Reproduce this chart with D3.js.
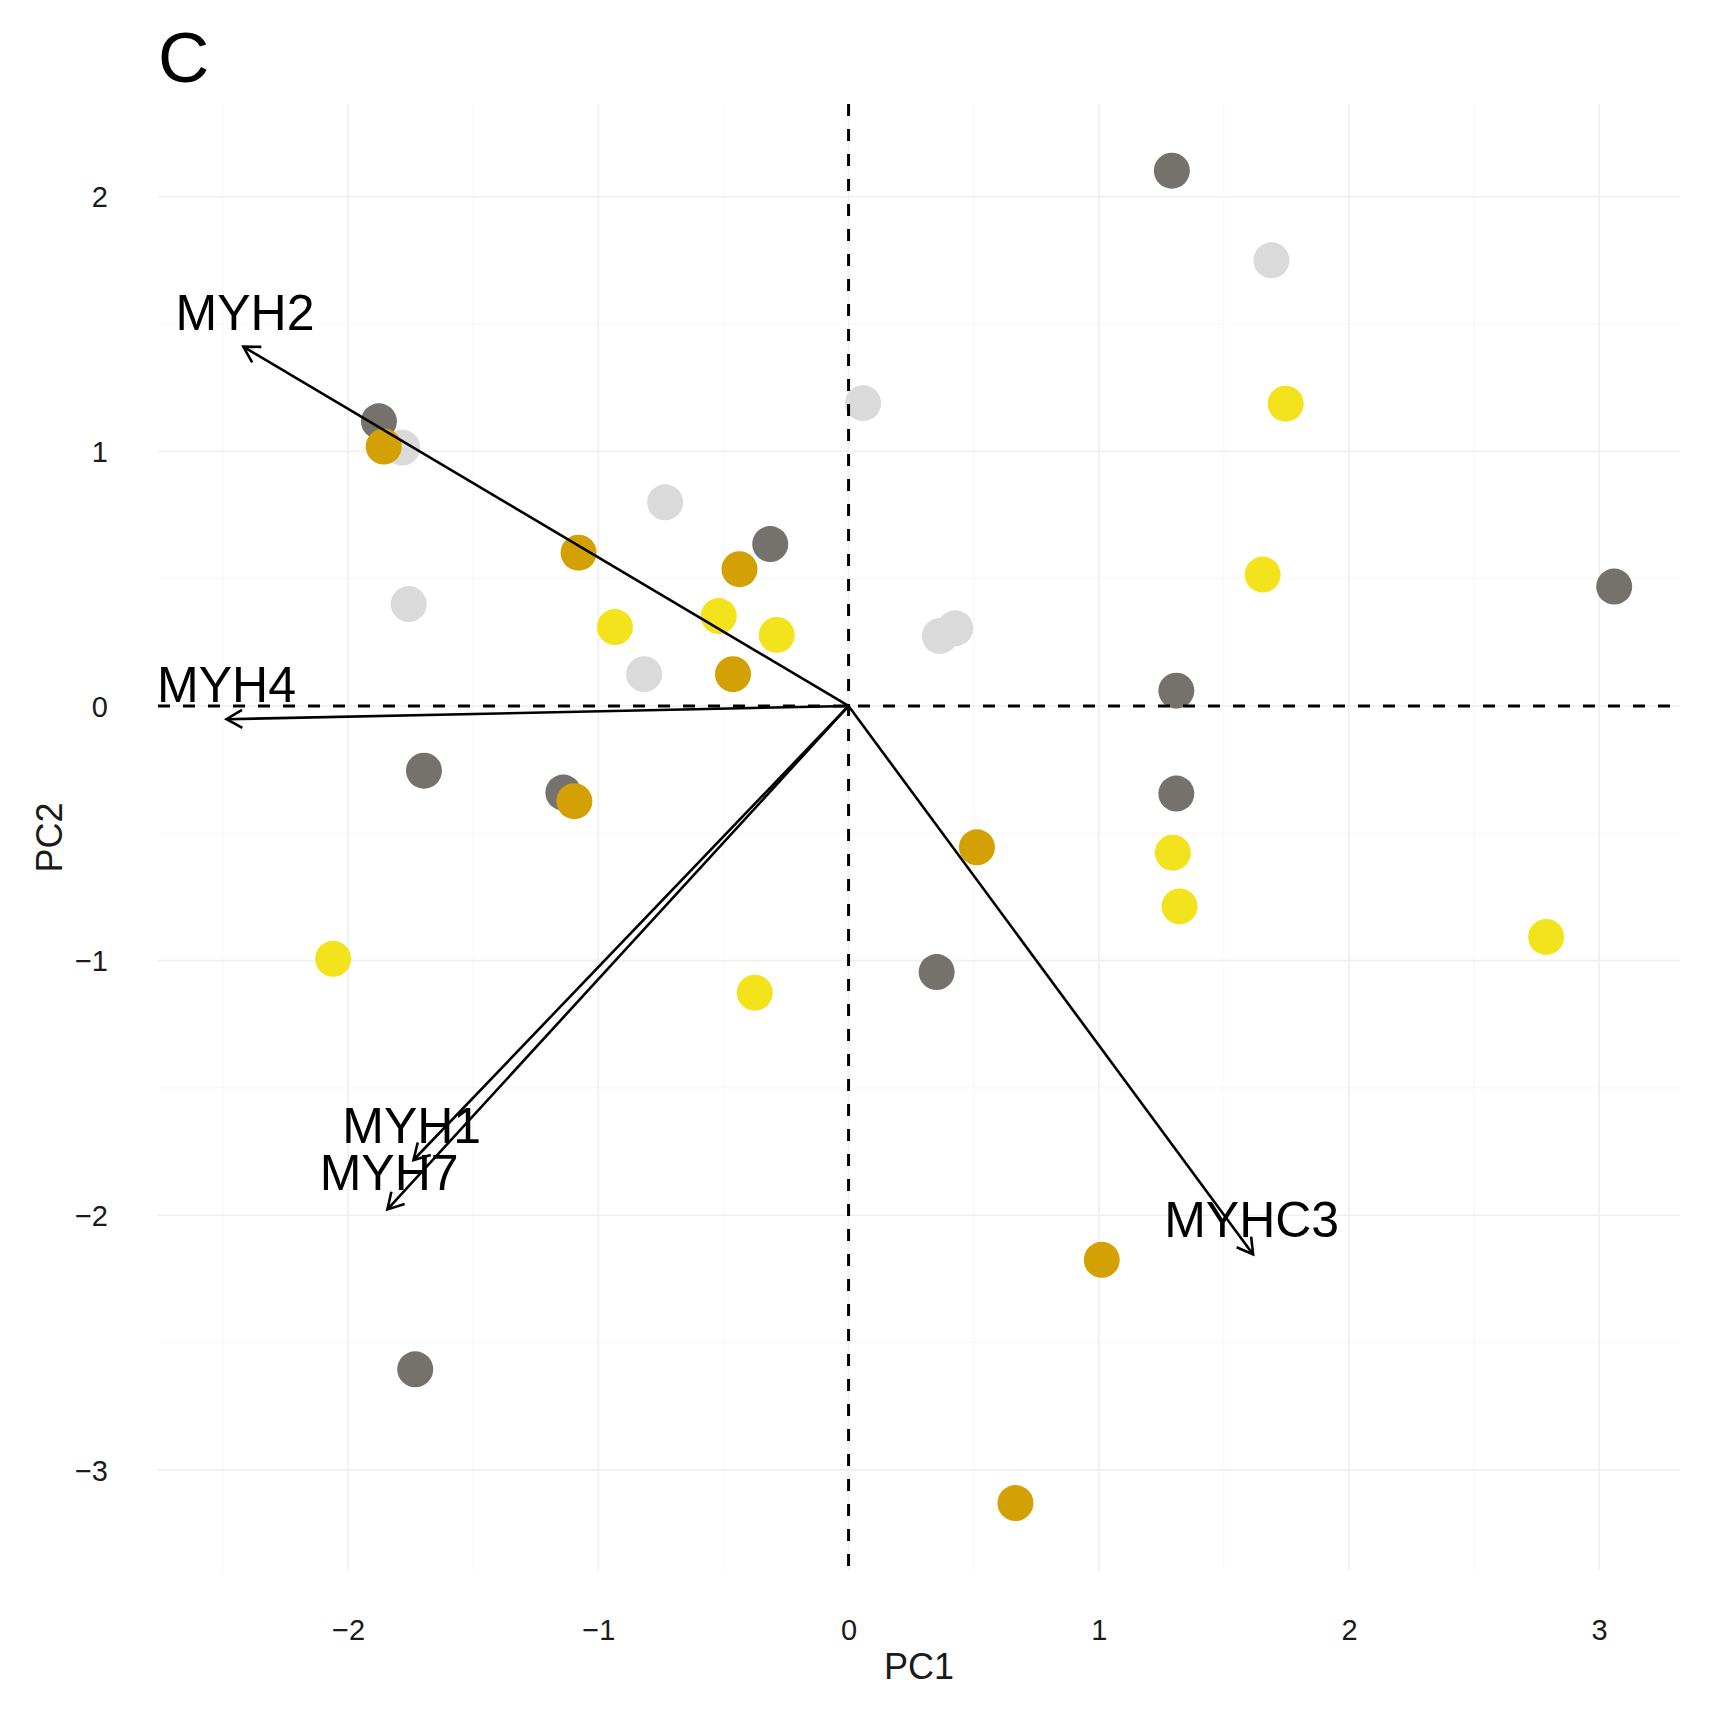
<!DOCTYPE html>
<html>
<head>
<meta charset="utf-8">
<script src="https://cdn.jsdelivr.net/npm/d3@7"></script>
<style>
  body { margin: 0; background: #fff; }
  text { font-family: "Liberation Sans", Arial, sans-serif; }
</style>
</head>
<body>
<div id="chart"></div>
<script>
// group colours
var groupColors = { dark: "#75716d", light: "#dadada", gold: "#d4a104", yellow: "#f3e31d" };

// sample scores (PC1, PC2) per group
var darkX  = [1.292, -1.877, -0.313, 3.060, 1.310, -1.697, -1.140, 1.310, 0.352, -1.732];
var darkY  = [2.102, 1.118, 0.636, 0.469, 0.060, -0.254, -0.340, -0.344, -1.045, -2.605];
var lightX = [1.690, 0.058, -1.784, -0.733, -1.758, -0.817, 0.365, 0.426];
var lightY = [1.750, 1.189, 1.015, 0.800, 0.400, 0.125, 0.275, 0.305];
var yellowX = [1.747, 1.655, -0.934, -0.519, -0.287, 1.296, 1.323, 2.788, -2.060, -0.375];
var yellowY = [1.187, 0.516, 0.310, 0.353, 0.279, -0.576, -0.787, -0.907, -0.993, -1.126];
var goldX  = [-1.858, -1.079, -0.436, -0.462, -1.096, 0.513, 1.012, 0.667];
var goldY  = [1.019, 0.602, 0.537, 0.125, -0.374, -0.555, -2.175, -3.130];

// variable loadings (arrows) and their labels
var genes    = ["MYH2", "MYH4", "MYH1", "MYH7", "MYHC3"];
var loadX    = [-2.419, -2.486, -1.739, -1.843, 1.617];
var loadY    = [1.411, -0.052, -1.783, -1.977, -2.154];
var labelX   = [-2.412, -2.486, -1.746, -1.836, 1.611];
var labelY   = [1.546, 0.086, -1.644, -1.832, -2.013];

var xTicks = [-2, -1, 0, 1, 2, 3];
var yTicks = [-3, -2, -1, 0, 1, 2];
var xMinor = [-2.5, -1.5, -0.5, 0.5, 1.5, 2.5];
var yMinor = [-2.5, -1.5, -0.5, 0.5, 1.5];

var width = 1713, height = 1717;
var padding = { left: 158, right: 33, top: 104, bottom: 146 };

var xScale = d3.scaleLinear()
    .domain([-2.760, 3.323])
    .range([padding.left, width - padding.right]);
var yScale = d3.scaleLinear()
    .domain([-3.397, 2.364])
    .range([height - padding.bottom, padding.top]);

var svg = d3.select("#chart").append("svg")
    .attr("width", width)
    .attr("height", height);

// arrow head
svg.append("defs").append("marker")
    .attr("id", "arrowHead")
    .attr("markerUnits", "userSpaceOnUse")
    .attr("viewBox", "-20 -12 24 24")
    .attr("markerWidth", 24).attr("markerHeight", 24)
    .attr("refX", 0).attr("refY", 0)
    .attr("orient", "auto")
    .append("path")
    .attr("d", "M-15.6,-9L0,0L-15.6,9")
    .attr("fill", "none")
    .attr("stroke", "#000")
    .attr("stroke-width", 2.6);

var grid = svg.append("g");
// minor grid
grid.selectAll(".minorX").data(xMinor).enter().append("line")
    .attr("x1", d => xScale(d)).attr("x2", d => xScale(d))
    .attr("y1", padding.top).attr("y2", height - padding.bottom)
    .attr("stroke", "#f7f7f7").attr("stroke-width", 1);
grid.selectAll(".minorY").data(yMinor).enter().append("line")
    .attr("y1", d => yScale(d)).attr("y2", d => yScale(d))
    .attr("x1", padding.left).attr("x2", width - padding.right)
    .attr("stroke", "#f7f7f7").attr("stroke-width", 1);
// major grid
grid.selectAll(".majorX").data(xTicks).enter().append("line")
    .attr("x1", d => xScale(d)).attr("x2", d => xScale(d))
    .attr("y1", padding.top).attr("y2", height - padding.bottom)
    .attr("stroke", "#efefef").attr("stroke-width", 1.6);
grid.selectAll(".majorY").data(yTicks).enter().append("line")
    .attr("y1", d => yScale(d)).attr("y2", d => yScale(d))
    .attr("x1", padding.left).attr("x2", width - padding.right)
    .attr("stroke", "#efefef").attr("stroke-width", 1.6);

// axes (text only)
var fmt = d => d < 0 ? "\u2212" + Math.abs(d) : String(d);
var xAxis = d3.axisBottom(xScale).tickValues(xTicks).tickSize(0).tickPadding(0).tickFormat(fmt);
var yAxis = d3.axisLeft(yScale).tickValues(yTicks).tickSize(0).tickPadding(0).tickFormat(fmt);

var gx = svg.append("g")
    .attr("transform", "translate(0," + (height - padding.bottom) + ")")
    .call(xAxis);
gx.select(".domain").remove();
gx.selectAll("text").attr("font-size", 29).attr("fill", "#1a1a1a")
    .attr("font-family", "Liberation Sans, Arial, sans-serif")
    .attr("dy", null).attr("y", 69);

var gy = svg.append("g")
    .attr("transform", "translate(108,0)")
    .call(yAxis);
gy.select(".domain").remove();
gy.selectAll("text").attr("font-size", 29).attr("fill", "#1a1a1a")
    .attr("font-family", "Liberation Sans, Arial, sans-serif")
    .attr("x", 0).attr("dy", "0.35em");

// axis titles
svg.append("text")
    .attr("x", (padding.left + width - padding.right) / 2)
    .attr("y", 1679)
    .attr("text-anchor", "middle")
    .attr("font-size", 36)
    .attr("fill", "#1a1a1a")
    .text("PC1");
svg.append("text")
    .attr("transform", "translate(62," + ((padding.top + height - padding.bottom) / 2) + ") rotate(-90)")
    .attr("text-anchor", "middle")
    .attr("font-size", 36)
    .attr("fill", "#1a1a1a")
    .text("PC2");

// panel tag
svg.append("text")
    .attr("x", 158).attr("y", 82)
    .attr("font-size", 71)
    .attr("fill", "#000")
    .text("C");

// points
function drawGroup(xs, ys, color) {
    svg.append("g").selectAll("circle")
        .data(xs)
        .enter().append("circle")
        .attr("cx", d => xScale(d))
        .attr("cy", (d, i) => yScale(ys[i]))
        .attr("r", 18)
        .attr("fill", color);
}
drawGroup(lightX, lightY, groupColors.light);
drawGroup(darkX, darkY, groupColors.dark);
drawGroup(yellowX, yellowY, groupColors.yellow);
drawGroup(goldX, goldY, groupColors.gold);

// reference dashed lines
svg.append("line")
    .attr("x1", xScale(0)).attr("x2", xScale(0))
    .attr("y1", padding.top).attr("y2", height - padding.bottom)
    .attr("stroke", "#000").attr("stroke-width", 3)
    .attr("stroke-dasharray", "12,13");
svg.append("line")
    .attr("x1", padding.left).attr("x2", width - padding.right)
    .attr("y1", yScale(0)).attr("y2", yScale(0))
    .attr("stroke", "#000").attr("stroke-width", 3)
    .attr("stroke-dasharray", "12,13");

// loading arrows
svg.append("g").selectAll("line")
    .data(genes)
    .enter().append("line")
    .attr("x1", xScale(0)).attr("y1", yScale(0))
    .attr("x2", (d, i) => xScale(loadX[i]))
    .attr("y2", (d, i) => yScale(loadY[i]))
    .attr("stroke", "#000")
    .attr("stroke-width", 2.6)
    .attr("marker-end", "url(#arrowHead)");

svg.append("g").selectAll("text")
    .data(genes)
    .enter().append("text")
    .attr("x", (d, i) => xScale(labelX[i]))
    .attr("y", (d, i) => yScale(labelY[i]))
    .attr("dy", "0.36em")
    .attr("text-anchor", "middle")
    .attr("font-size", 50)
    .attr("fill", "#000")
    .text(d => d);
</script>
</body>
</html>
